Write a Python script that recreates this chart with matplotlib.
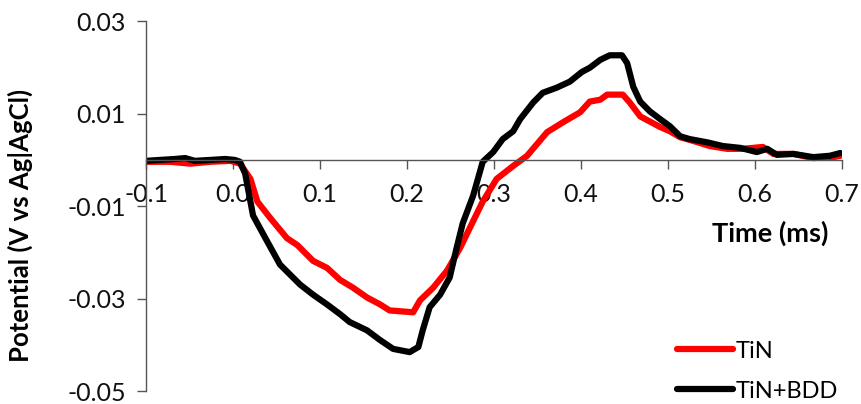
import numpy as np
import matplotlib
matplotlib.use("Agg")
import matplotlib.pyplot as plt

# time (ms) and potential (V)
t_tin = [-0.100, -0.072, -0.049, -0.026, -0.003, 0.008, 0.020, 0.028, 0.043, 0.062,
         0.074, 0.092, 0.108, 0.123, 0.138, 0.154, 0.169, 0.180, 0.207, 0.215,
         0.230, 0.246, 0.261, 0.276, 0.287, 0.303, 0.322, 0.338, 0.361, 0.379,
         0.399, 0.410, 0.422, 0.430, 0.448, 0.456, 0.468, 0.479, 0.491, 0.502,
         0.514, 0.529, 0.548, 0.568, 0.586, 0.609, 0.621, 0.644, 0.667, 0.690, 0.698]
v_tin = [-0.0004, -0.0004, -0.0008, -0.0004, -0.0002, -0.0008, -0.0041, -0.0090, -0.0126, -0.0169,
         -0.0184, -0.0218, -0.0233, -0.0259, -0.0276, -0.0297, -0.0312, -0.0325, -0.0329, -0.0303,
         -0.0276, -0.0239, -0.0190, -0.0132, -0.0090, -0.0041, -0.0013, 0.0009, 0.0060, 0.0081,
         0.0103, 0.0126, 0.0130, 0.0141, 0.0141, 0.0124, 0.0094, 0.0083, 0.0071, 0.0062,
         0.0049, 0.0041, 0.0030, 0.0024, 0.0024, 0.0028, 0.0013, 0.0013, 0.0004, 0.0006, 0.0009]

t_bdd = [-0.100, -0.084, -0.067, -0.055, -0.044, -0.026, -0.009, 0.002, 0.008, 0.014,
         0.023, 0.039, 0.054, 0.077, 0.092, 0.108, 0.123, 0.134, 0.154, 0.169,
         0.184, 0.203, 0.213, 0.218, 0.226, 0.238, 0.249, 0.257, 0.264, 0.276,
         0.287, 0.299, 0.310, 0.322, 0.330, 0.345, 0.356, 0.372, 0.387, 0.401,
         0.410, 0.422, 0.433, 0.447, 0.453, 0.460, 0.468, 0.479, 0.491, 0.502,
         0.514, 0.525, 0.545, 0.563, 0.583, 0.602, 0.614, 0.625, 0.644, 0.667, 0.686, 0.698]
v_bdd = [-0.0002, 0.0000, 0.0002, 0.0004, -0.0002, 0.0000, 0.0002, 0.0000, -0.0004, -0.0030,
         -0.0120, -0.0175, -0.0226, -0.0269, -0.0291, -0.0312, -0.0333, -0.0350, -0.0368, -0.0389,
         -0.0408, -0.0415, -0.0404, -0.0368, -0.0318, -0.0291, -0.0254, -0.0190, -0.0137, -0.0077,
         -0.0004, 0.0017, 0.0045, 0.0062, 0.0088, 0.0124, 0.0145, 0.0156, 0.0169, 0.0190,
         0.0199, 0.0216, 0.0226, 0.0226, 0.0209, 0.0158, 0.0126, 0.0105, 0.0088, 0.0073,
         0.0051, 0.0045, 0.0038, 0.0030, 0.0026, 0.0017, 0.0024, 0.0011, 0.0013, 0.0006, 0.0009, 0.0015]

xticks = [-0.1, 0.0, 0.1, 0.2, 0.3, 0.4, 0.5, 0.6, 0.7]
yticks = [-0.05, -0.03, -0.01, 0.01, 0.03]

plt.rcParams['font.family'] = ['Lato', 'DejaVu Sans']

fig = plt.figure(figsize=(8.61, 4.04), dpi=100)
ax = fig.add_axes([0.1696, 0.031, 0.8084, 0.917])

ax.plot(t_tin, v_tin, color='#ff0000', lw=4.5, label='TiN', solid_capstyle='round')
ax.plot(t_bdd, v_bdd, color='black', lw=4.5, label='TiN+BDD', solid_capstyle='round')

ax.set_xlim(-0.1, 0.7)
ax.set_ylim(-0.05, 0.03)
ax.spines['top'].set_visible(False)
ax.spines['right'].set_visible(False)
ax.spines['bottom'].set_position(('data', 0))
for s in ('left', 'bottom'):
    ax.spines[s].set_color('#555555')
    ax.spines[s].set_linewidth(1.0)

ax.set_xticks(xticks)
ax.set_xticklabels(['%.1f' % v for v in xticks])
ax.set_yticks(yticks)
ax.set_yticklabels(['%.2f' % v for v in yticks])
ax.tick_params(axis='both', direction='out', length=6.5, width=1.0, color='#555555',
               labelsize=18, labelcolor='#111111')
ax.tick_params(axis='x', pad=10)
ax.tick_params(axis='y', pad=8)

ax.set_ylabel('Potential (V vs Ag|AgCl)', fontsize=18.5, fontweight='bold')
ax.yaxis.set_label_coords(-0.162, 0.447)
ax.text(0.684, -0.0158, 'Time (ms)', ha='right', va='center', fontsize=19.5, fontweight='bold')

ax.legend(loc='upper left', bbox_to_anchor=(0.775, 0.18), bbox_transform=fig.transFigure,
          frameon=False, fontsize=17, handlelength=2.4, handletextpad=0.1,
          labelspacing=0.8, borderaxespad=0)

fig.savefig('out.png', dpi=100)
